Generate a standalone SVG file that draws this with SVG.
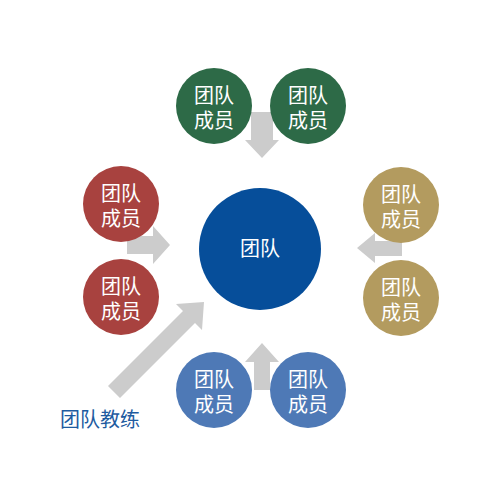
<svg xmlns="http://www.w3.org/2000/svg" width="500" height="500" viewBox="0 0 500 500">
<style>
.t{font-family:"Liberation Sans","Noto Sans CJK SC",sans-serif;font-size:20px;fill:#fff;text-anchor:middle}
.ar{fill:#cccccc}
.g{fill:#2d6a47}.r{fill:#a8423f}.y{fill:#b39b5f}.b{fill:#4e79b6}
</style>
<rect width="500" height="500" fill="#fff"/>
<g id="connectors">
<polygon class="ar" points="251,112 273,112 273,140 279,140 262,158 245,140 251,140"/>
<polygon class="ar" points="127,236 153,236 153,226 170,245 153,264 153,254 127,254"/>
<polygon class="ar" points="402,241 375,241 375,233 357,248 375,263 375,256 402,256"/>
<polygon class="ar" points="254,390 270,390 270,362 279,362 262,343 245,362 254,362"/>
<polygon class="ar" points="108,386 183,311 176,304 204,302 202,330 195,323 120,398"/>
</g>
<g id="center"><circle cx="260" cy="249" r="61" fill="#064e9a"/><text class="t" x="260" y="256">团队</text></g>
<g id="g1"><circle class="g" cx="214" cy="106" r="38"/><text class="t" x="214" y="103">团队</text><text class="t" x="214" y="128">成员</text></g>
<g id="g2"><circle class="g" cx="308" cy="106" r="38"/><text class="t" x="308" y="103">团队</text><text class="t" x="308" y="128">成员</text></g>
<g id="r1"><circle class="r" cx="121" cy="204" r="38"/><text class="t" x="121" y="201">团队</text><text class="t" x="121" y="226">成员</text></g>
<g id="r2"><circle class="r" cx="121" cy="297" r="38"/><text class="t" x="121" y="294">团队</text><text class="t" x="121" y="319">成员</text></g>
<g id="y1"><circle class="y" cx="401" cy="205" r="38"/><text class="t" x="401" y="202">团队</text><text class="t" x="401" y="227">成员</text></g>
<g id="y2"><circle class="y" cx="401" cy="298" r="38"/><text class="t" x="401" y="295">团队</text><text class="t" x="401" y="320">成员</text></g>
<g id="b1"><circle class="b" cx="214" cy="390" r="38"/><text class="t" x="214" y="387">团队</text><text class="t" x="214" y="412">成员</text></g>
<g id="b2"><circle class="b" cx="308" cy="390" r="38"/><text class="t" x="308" y="387">团队</text><text class="t" x="308" y="412">成员</text></g>
<g id="coach"><text x="60" y="427" style="font-family:'Liberation Sans','Noto Sans CJK SC',sans-serif;font-size:20px;fill:#1e5ba0">团队教练</text></g>
</svg>
